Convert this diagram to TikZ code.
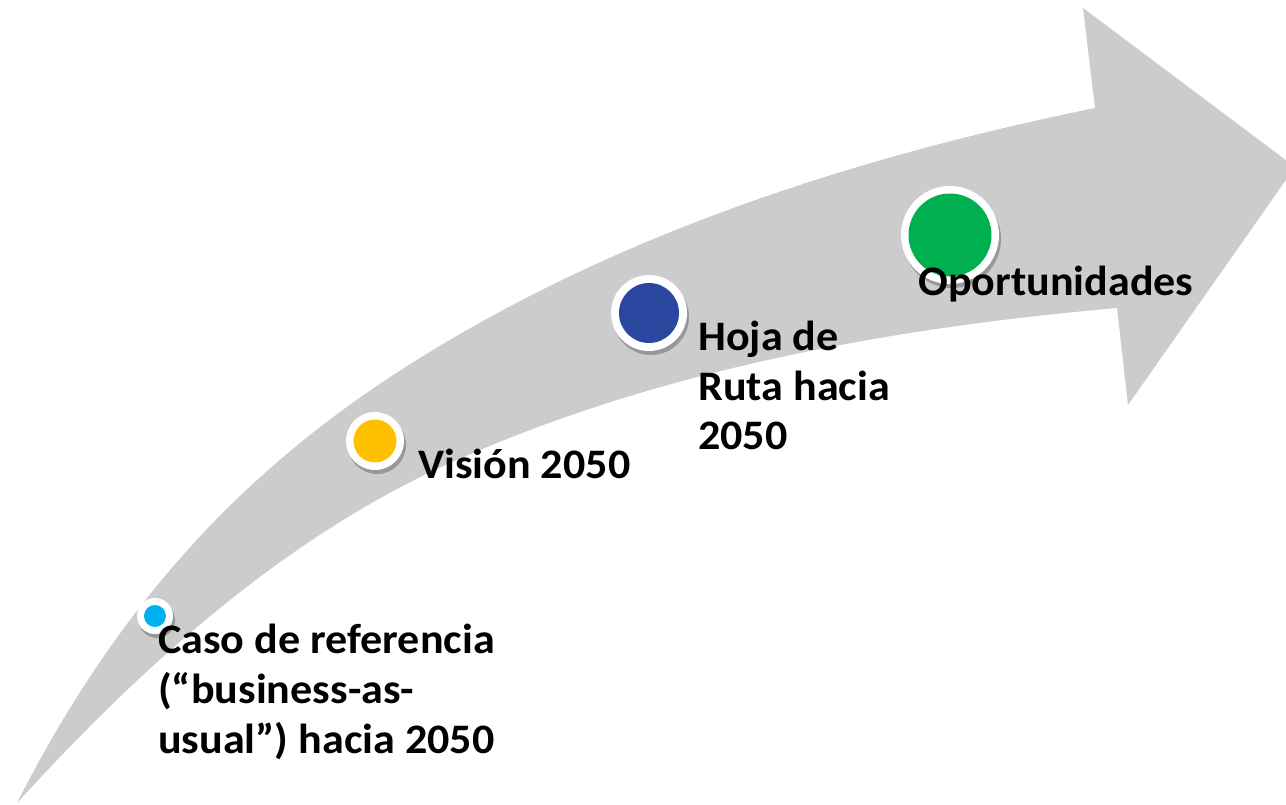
\documentclass[tikz,border=0pt]{standalone}
\usepackage{fontspec}
\setmainfont{Carlito}[FakeStretch=1.05]
\usetikzlibrary{shadows}
\definecolor{arrowgray}{RGB}{204,204,204}
\definecolor{ccyan}{RGB}{0,176,240}
\definecolor{cyellow}{RGB}{255,192,0}
\definecolor{cblue}{RGB}{42,71,160}
\definecolor{cgreen}{RGB}{0,176,80}
\begin{document}
\begin{tikzpicture}[x=1pt,y=-1pt,
  ring/.style={circle, fill=white, inner sep=0pt,
    drop shadow={shadow xshift=2pt, shadow yshift=-4pt, opacity=0.25, fill=black}},
  lbl/.style={anchor=base west, inner sep=0pt,
    font=\bfseries\fontsize{42}{50}\selectfont, text=black}]
\useasboundingbox (0,0) rectangle (1286,805);
\clip (0,0) rectangle (1286,805);
% curved arrow
\fill[arrowgray] (17,803) .. controls (134,572) and (279,443) .. (433,350)
  .. controls (634,228) and (865,155) .. (1095,108)
  -- (1083,8) -- (1295,167) -- (1128,405) -- (1117,308)
  .. controls (890,328) and (657,370) .. (450,463)
  .. controls (283,538) and (140,668) .. (17,803) -- cycle;
% milestones
\node[ring, minimum size=36pt] (c1) at (155,616) {};
\fill[ccyan] (c1.center) circle[radius=11pt];
\node[ring, minimum size=58pt] (c2) at (375,441) {};
\fill[cyellow] (c2.center) circle[radius=21.5pt];
\node[ring, minimum size=76pt] (c3) at (649,313) {};
\fill[cblue] (c3.center) circle[radius=30pt];
\node[ring, minimum size=98pt] (c4) at (950,235) {};
\fill[cgreen] (c4.center) circle[radius=41.5pt];
% labels
\node[lbl] (t1) at (158,653) {\begin{tabular}[t]{@{}l@{}}Caso de referencia\\(“business-as-\\usual”) hacia 2050\end{tabular}};
\node[lbl] (t2) at (418,478) {Visión 2050};
\node[lbl] (t3) at (698,350) {\begin{tabular}[t]{@{}l@{}}Hoja de\\Ruta hacia\\2050\end{tabular}};
\node[lbl] (t4) at (918,295) {Oportunidades};
\end{tikzpicture}
\end{document}
